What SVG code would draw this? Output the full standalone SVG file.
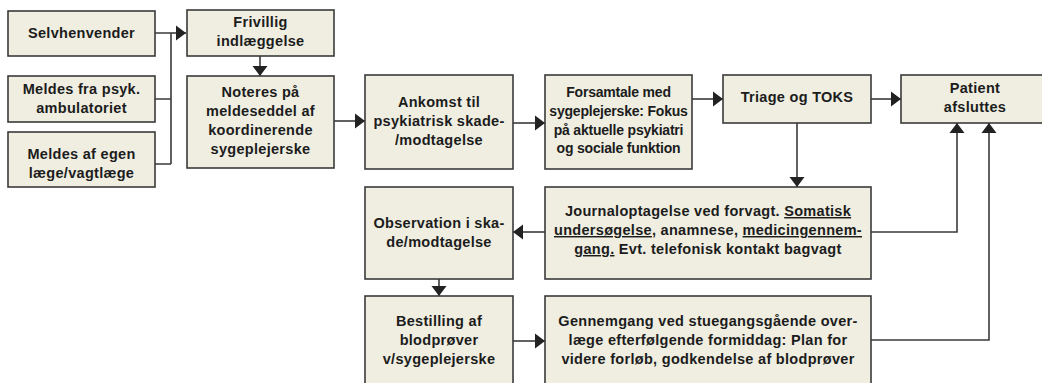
<svg xmlns="http://www.w3.org/2000/svg" width="1042" height="383" viewBox="0 0 1042 383">
<style>
.box{fill:#efeee1;stroke:#3a3a3a;stroke-width:1.6}
.t{font-family:"Liberation Sans",Arial,sans-serif;font-weight:bold;font-size:14.5px;fill:#1c1c1c;text-anchor:middle;letter-spacing:0.3px}
.c{font-size:14px;letter-spacing:-0.2px}
.u{text-decoration:underline}
.ln{fill:none;stroke:#3a3a3a;stroke-width:1.6}
</style>
<defs>
<marker id="ah" markerUnits="userSpaceOnUse" markerWidth="11" markerHeight="16" refX="10" refY="8" orient="auto">
<path d="M0,0.5 L10,8 L0,15.5 z" fill="#222"/>
</marker>
</defs>
<rect width="1042" height="383" fill="#fff"/>
<g id="connectors">
<path class="ln" d="M155,33 H171 M155,99 H171 M155,164 H171 M171,33 V164"/>
<path class="ln" d="M171,33 H186" marker-end="url(#ah)"/>
<path class="ln" d="M260,56 V76" marker-end="url(#ah)"/>
<path class="ln" d="M334,121 H365" marker-end="url(#ah)"/>
<path class="ln" d="M513,123 H545" marker-end="url(#ah)"/>
<path class="ln" d="M692,99 H723" marker-end="url(#ah)"/>
<path class="ln" d="M871,99 H901" marker-end="url(#ah)"/>
<path class="ln" d="M797,123 V187" marker-end="url(#ah)"/>
<path class="ln" d="M545,232 H513" marker-end="url(#ah)"/>
<path class="ln" d="M871,232 H957 V123" marker-end="url(#ah)"/>
<path class="ln" d="M439,279 V296" marker-end="url(#ah)"/>
<path class="ln" d="M513,341 H545" marker-end="url(#ah)"/>
<path class="ln" d="M871,340 H989 V123" marker-end="url(#ah)"/>
</g>
<g id="selvhenvender"><rect class="box" x="8" y="11" width="147" height="45"/><text class="t" x="81.5" y="38">Selvhenvender</text></g>
<g id="meldes-psyk"><rect class="box" x="8" y="76" width="147" height="46"/><text class="t" x="81.5" y="94">Meldes fra psyk.</text><text class="t" x="81.5" y="113">ambulatoriet</text></g>
<g id="meldes-egen"><rect class="box" x="8" y="132" width="147" height="55"/><text class="t" x="81.5" y="159">Meldes af egen</text><text class="t" x="81.5" y="178">læge/vagtlæge</text></g>
<g id="frivillig"><rect class="box" x="187" y="10" width="147" height="46"/><text class="t" x="260.5" y="27">Frivillig</text><text class="t" x="260.5" y="46">indlæggelse</text></g>
<g id="noteres"><rect class="box" x="187" y="76" width="147" height="92"/><text class="t" x="260.5" y="97">Noteres på</text><text class="t" x="260.5" y="116">meldeseddel af</text><text class="t" x="260.5" y="135">koordinerende</text><text class="t" x="260.5" y="154">sygeplejerske</text></g>
<g id="ankomst"><rect class="box" x="365" y="75" width="148" height="94"/><text class="t" x="439" y="107">Ankomst til</text><text class="t" x="439" y="126">psykiatrisk skade-</text><text class="t" x="439" y="145">/modtagelse</text></g>
<g id="forsamtale"><rect class="box" x="545" y="75" width="147" height="94"/><text class="t c" x="618.5" y="97">Forsamtale med</text><text class="t c" x="618.5" y="116">sygeplejerske: Fokus</text><text class="t c" x="618.5" y="135">på aktuelle psykiatri</text><text class="t c" x="618.5" y="153">og sociale funktion</text></g>
<g id="triage"><rect class="box" x="723" y="75" width="148" height="48"/><text class="t" x="797" y="102">Triage og TOKS</text></g>
<g id="patient"><rect class="box" x="901" y="75" width="148" height="48"/><text class="t" x="975" y="93">Patient</text><text class="t" x="975" y="112">afsluttes</text></g>
<g id="journal"><rect class="box" x="545" y="187" width="326" height="92"/><text class="t" x="708" y="216">Journaloptagelse ved forvagt. <tspan class="u">Somatisk </tspan></text><text class="t" x="708" y="235"><tspan class="u">undersøgelse</tspan>, anamnese, <tspan class="u">medicingennem-</tspan></text><text class="t" x="708" y="254"><tspan class="u">gang.</tspan> Evt. telefonisk kontakt bagvagt</text></g>
<g id="observation"><rect class="box" x="365" y="187" width="148" height="92"/><text class="t" x="439" y="228">Observation i ska-</text><text class="t" x="439" y="247">de/modtagelse</text></g>
<g id="bestilling"><rect class="box" x="365" y="296" width="148" height="96"/><text class="t" x="439" y="326">Bestilling af</text><text class="t" x="439" y="345">blodprøver</text><text class="t" x="439" y="364">v/sygeplejerske</text></g>
<g id="gennemgang"><rect class="box" x="545" y="296" width="326" height="96"/><text class="t" x="708" y="326">Gennemgang ved stuegangsgående over-</text><text class="t" x="708" y="345">læge efterfølgende formiddag: Plan for</text><text class="t" x="708" y="364">videre forløb, godkendelse af blodprøver</text></g>
</svg>
